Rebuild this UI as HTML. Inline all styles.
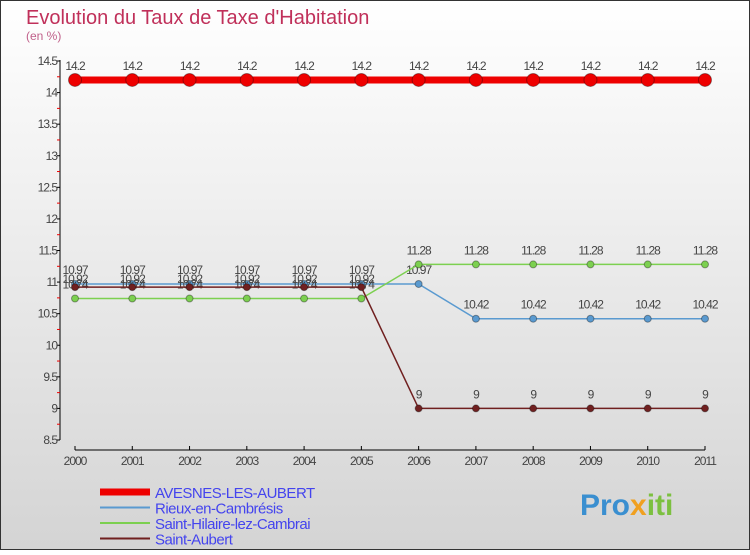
<!DOCTYPE html>
<html><head><meta charset="utf-8"><style>
body{margin:0}
#c{width:750px;height:550px;position:relative;font-family:"Liberation Sans",sans-serif;}
</style></head><body>
<div id="c">
<svg id="s" width="750" height="550" xmlns="http://www.w3.org/2000/svg">
<defs><linearGradient id="bg" x1="0" y1="0" x2="0" y2="1"><stop offset="0" stop-color="#ffffff"/><stop offset="1" stop-color="#d4d4d4"/></linearGradient></defs>
<rect x="0.5" y="0.5" width="749" height="549" fill="url(#bg)" stroke="#333"/>
<text x="26" y="24" font-size="20" fill="#c0305a">Evolution du Taux de Taxe d'Habitation</text>
<text x="26" y="40" font-size="12" fill="#c0608a">(en %)</text>
<g id="axes"></g><g id="plot"></g>
<text x="580" y="515" font-size="30" font-weight="bold" fill="#3a8fd0">Pro<tspan fill="#f0a020">x</tspan><tspan fill="#7cc040">iti</tspan></text>
</svg></div>
<script>
const years=[2000,2001,2002,2003,2004,2005,2006,2007,2008,2009,2010,2011];
const seriesNames=["AVESNES-LES-AUBERT","Rieux-en-Cambrésis","Saint-Hilaire-lez-Cambrai","Saint-Aubert"];
const avesnes=[14.2,14.2,14.2,14.2,14.2,14.2,14.2,14.2,14.2,14.2,14.2,14.2];
const rieux=[10.97,10.97,10.97,10.97,10.97,10.97,10.97,10.42,10.42,10.42,10.42,10.42];
const hilaire=[10.74,10.74,10.74,10.74,10.74,10.74,11.28,11.28,11.28,11.28,11.28,11.28];
const aubert=[10.92,10.92,10.92,10.92,10.92,10.92,9,9,9,9,9,9];
const yTicks=[8.5,9,9.5,10,10.5,11,11.5,12,12.5,13,13.5,14,14.5];
const NS="http://www.w3.org/2000/svg";
const X=i=>75+i*(630/11), Y=v=>440-(v-8.5)*(379/6);
function mk(t,a,p){const e=document.createElementNS(NS,t);for(const k in a)e.setAttribute(k,a[k]);(p||document.getElementById('plot')).appendChild(e);return e;}
const ax=document.getElementById('axes');
let e=mk('line',{x1:60,y1:60,x2:60,y2:440,stroke:'#000'},ax);

e=mk('line',{x1:75,y1:450,x2:705,y2:450,stroke:'#000'},ax);

yTicks.forEach((v,i)=>{mk('line',{x1:57,y1:Y(v),x2:60,y2:Y(v),stroke:'#000'},ax);
 if(i<yTicks.length-1)mk('line',{x1:57,y1:Y(v+0.25),x2:60,y2:Y(v+0.25),stroke:'#e00'},ax);
 const t=mk('text',{x:57,y:Y(v)+4,'font-size':12,'text-anchor':'end',fill:'#444','letter-spacing':'-1'},ax);t.textContent=String(v);
 });
years.forEach((y,i)=>{mk('line',{x1:X(i),y1:446,x2:X(i),y2:450,stroke:'#000'},ax);
 const t=mk('text',{x:X(i),y:465,'font-size':12,'text-anchor':'middle',fill:'#444','letter-spacing':'-1'},ax);t.textContent=String(y);
 });
const series=[[avesnes,'#ee0000',7,6.5,-12],[rieux,'#5a9ad0',1.5,3.5,-9],[hilaire,'#7cd050',1.5,3.5,-9],[aubert,'#702020',1.5,3.5,-9]];
const dy=[[ -12],[],[],[]];
series.forEach((s,si)=>{const [d,c,w,r]=s;
 const g=mk('g',{});
 mk('polyline',{points:d.map((v,i)=>X(i)+','+Y(v)).join(' '),fill:'none',stroke:c,'stroke-width':w},g);
 d.forEach((v,i)=>{const p=mk('circle',{cx:X(i),cy:Y(v),r:r,fill:c,stroke:'rgba(0,0,0,0.35)','stroke-width':1},g);
  
  let off=-10; if(si==3&&i<6)off=-4;
  const t=mk('text',{x:X(i),y:Y(v)+off,'font-size':12,'text-anchor':'middle',fill:'#444','letter-spacing':'-1'},g);
  t.textContent=String(v);});
});
const lg=document.getElementById('plot');
series.forEach((s,si)=>{const y0=492+si*15.5;
 const l=mk('line',{x1:100,y1:y0,x2:150,y2:y0,stroke:s[1],'stroke-width':si==0?7:2},lg);
 
 const t=mk('text',{x:155,y:y0+6,'font-size':15,fill:'#4444ee','letter-spacing':'-0.5'},lg);t.textContent=seriesNames[si];
 });
</script></body></html>
